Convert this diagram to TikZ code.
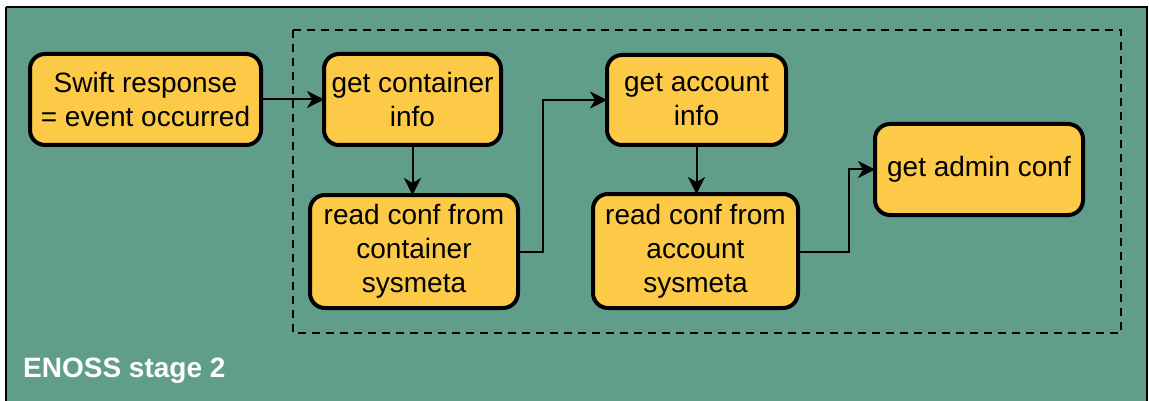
\documentclass[tikz,border=0pt]{standalone}
\usepackage{fontspec}
\setmainfont{Liberation Sans}
\usetikzlibrary{arrows.meta}
\definecolor{bggreen}{HTML}{619D8B}
\definecolor{boxyellow}{HTML}{FCCA46}
\tikzset{
  stepbox/.style={draw=black, line width=4pt, fill=boxyellow, rounded corners=15pt,
    align=center, font=\fontsize{28}{34}\selectfont, inner sep=0pt, outer sep=0pt},
  conn/.style={draw=black, line width=2pt, -{Stealth[length=17pt,width=17pt,inset=5pt]}},
}
\begin{document}
\begin{tikzpicture}[x=1pt,y=-1pt]
\useasboundingbox (0,0) rectangle (1149,401);
\fill[bggreen] (6,7) rectangle (1147,420);
\draw[line width=2pt] (6,7) -- (1147,7) -- (1147,420);
\draw[line width=2pt] (6,7) -- (6,420);
\draw[line width=2pt, dash pattern=on 8pt off 6pt] (293,30) rectangle (1121,333);

\node[stepbox, minimum width=231pt, minimum height=91pt] (swift) at (145.5,99.5) {Swift response\\= event occurred};
\node[stepbox, minimum width=177pt, minimum height=91pt] (cinfo) at (412.5,99.5) {get container\\info};
\node[stepbox, minimum width=208pt, minimum height=113pt] (cread) at (414,251.5) {read conf from\\container\\sysmeta};
\node[stepbox, minimum width=179pt, minimum height=90pt] (ainfo) at (696.5,100) {get account\\info};
\node[stepbox, minimum width=205pt, minimum height=114pt] (aread) at (695.5,251) {read conf from\\account\\sysmeta};
\node[stepbox, minimum width=208pt, minimum height=91pt] (admin) at (979,169.5) {get admin conf};

\node[anchor=base west, text=white, font=\bfseries\fontsize{28}{34}\selectfont, inner sep=0pt] (label) at (23,377) {ENOSS stage 2};

\coordinate (c1) at (543,252);
\coordinate (c2) at (849,252);
\draw[conn] (swift.east) -- (cinfo.west);
\draw[conn] (cinfo.south) -- (cinfo.south |- cread.north);
\draw[conn] (cread.east |- c1) -- (c1) |- (ainfo.west);
\draw[conn] (ainfo.south) -- (ainfo.south |- aread.north);
\draw[conn] (aread.east |- c2) -- (c2) |- (admin.west);
\end{tikzpicture}
\end{document}
